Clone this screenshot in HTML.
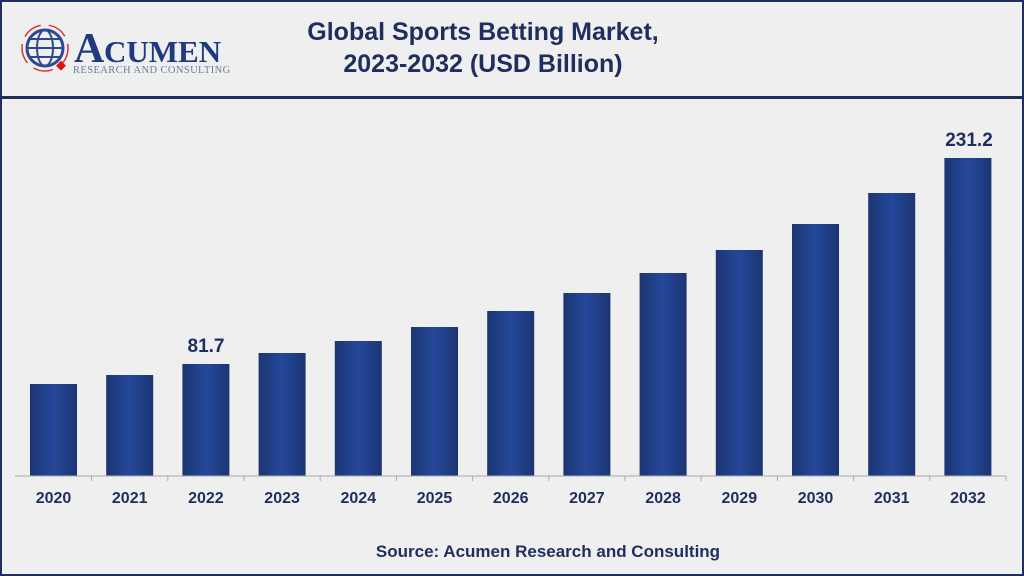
<!DOCTYPE html>
<html><head><style>
body{margin:0;width:1024px;height:576px;background:#efefef;font-family:"Liberation Sans",sans-serif;overflow:hidden;position:relative}
.frame{position:absolute;left:0;top:0;width:1020px;height:572px;border:2px solid #1f2e5e}
.sep{position:absolute;left:0;top:96px;width:1024px;height:3px;background:#1f2e5e}
.title{position:absolute;left:203px;width:560px;top:16px;text-align:center;font-weight:bold;font-size:25px;line-height:32px;color:#1f2e5e}
.src{position:absolute;left:0;width:1096px;top:542px;text-align:center;font-weight:bold;font-size:17px;color:#1f2e5e}
</style></head><body>
<div class="frame"></div>
<div class="sep"></div>
<svg style="position:absolute;left:0;top:0" width="300" height="95">
<circle cx="45" cy="48" r="18" fill="none" stroke="#2b4a8f" stroke-width="3"/>
<ellipse cx="45" cy="48" rx="8" ry="18" fill="none" stroke="#2b4a8f" stroke-width="2"/>
<line x1="27" y1="48" x2="63" y2="48" stroke="#2b4a8f" stroke-width="2"/>
<line x1="30" y1="39" x2="60" y2="39" stroke="#2b4a8f" stroke-width="2"/>
<line x1="30" y1="57" x2="60" y2="57" stroke="#2b4a8f" stroke-width="2"/>
<circle cx="45" cy="48" r="23" fill="none" stroke="#d33" stroke-width="1.5" stroke-dasharray="20 8"/>
<rect x="58" y="62" width="7" height="7" fill="#d11" transform="rotate(45 61 65)"/>
<text x="74" y="62" font-family="Liberation Serif,serif" font-size="42" font-weight="bold" fill="#1f3a80">A</text>
<text x="104" y="62" font-family="Liberation Serif,serif" font-size="31" font-weight="bold" fill="#1f3a80">CUMEN</text>
<text x="73" y="73" font-family="Liberation Serif,serif" font-size="10.5" fill="#6a7da0" letter-spacing="0.4">RESEARCH AND CONSULTING</text>
</svg>
<div class="title">Global Sports Betting Market,<br>2023-2032 (USD Billion)</div>
<svg style="position:absolute;left:0;top:0" width="1024" height="576">
<defs><linearGradient id="g" x1="0" x2="1"><stop offset="0" stop-color="#1c3572"/><stop offset="0.5" stop-color="#24489a"/><stop offset="1" stop-color="#1c3572"/></linearGradient></defs>
<g id="bars"></g>
<line x1="15" y1="476" x2="1006" y2="476" stroke="#aaa" stroke-width="1"/>
<g font-weight="bold" font-size="16" fill="#1f2e5e" text-anchor="middle" id="lbl"></g>
<text x="206" y="352" font-weight="bold" font-size="19" fill="#1f2e5e" text-anchor="middle">81.7</text>
<text x="969" y="146" font-weight="bold" font-size="19" fill="#1f2e5e" text-anchor="middle">231.2</text>
</svg>
<div class="src">Source: Acumen Research and Consulting</div>
<script>
var tops=[384,375,364,353,341,327,311,293,273,250,224,193,158];
var b='',l='';
for(var i=0;i<13;i++){var c=53.5+i*76.2;
b+='<rect x="'+(c-23.5)+'" y="'+tops[i]+'" width="47" height="'+(476-tops[i])+'" fill="url(#g)"/>';
b+='<line x1="'+(c+38.1)+'" y1="476" x2="'+(c+38.1)+'" y2="481" stroke="#aaa"/>';
l+='<text x="'+c+'" y="503">'+(2020+i)+'</text>';}
document.getElementById('bars').innerHTML=b;document.getElementById('lbl').innerHTML=l;
</script>
</body></html>
